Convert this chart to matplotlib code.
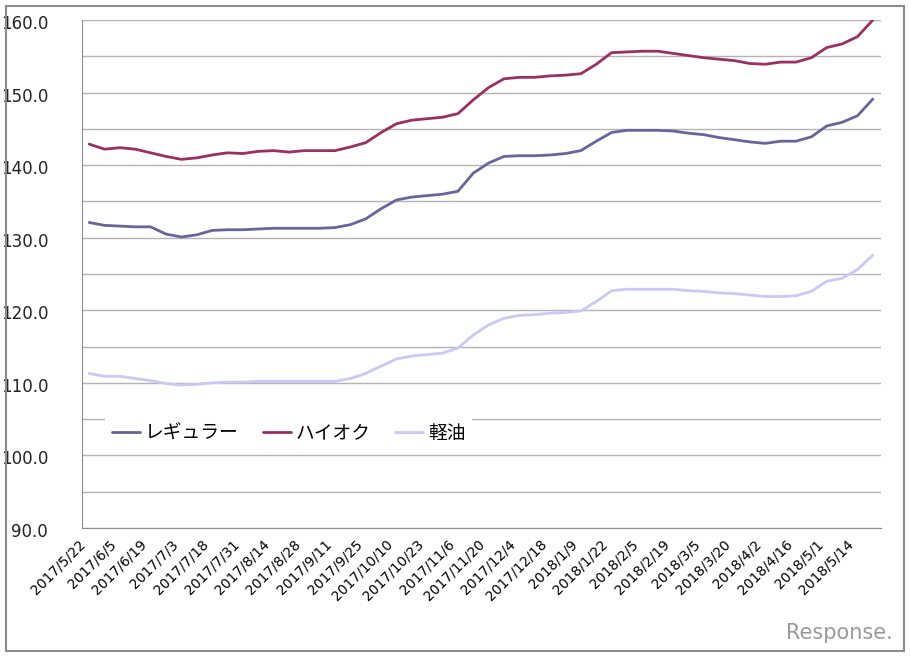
import matplotlib
matplotlib.use("Agg")
import matplotlib.pyplot as plt
from matplotlib.patches import Rectangle
from matplotlib.ticker import MultipleLocator, FormatStrFormatter
from matplotlib.transforms import ScaledTranslation

plt.rcParams['font.family'] = ['DejaVu Sans', 'Noto Sans CJK JP']

# survey dates (weekly, new year week skipped)
dates = ["2017/5/22", "2017/5/29", "2017/6/5", "2017/6/12", "2017/6/19", "2017/6/26",
         "2017/7/3", "2017/7/10", "2017/7/18", "2017/7/24", "2017/7/31", "2017/8/7",
         "2017/8/14", "2017/8/21", "2017/8/28", "2017/9/4", "2017/9/11", "2017/9/19",
         "2017/9/25", "2017/10/2", "2017/10/10", "2017/10/16", "2017/10/23", "2017/10/30",
         "2017/11/6", "2017/11/13", "2017/11/20", "2017/11/27", "2017/12/4", "2017/12/11",
         "2017/12/18", "2017/12/25", "2018/1/9", "2018/1/15", "2018/1/22", "2018/1/29",
         "2018/2/5", "2018/2/13", "2018/2/19", "2018/2/26", "2018/3/5", "2018/3/12",
         "2018/3/20", "2018/3/26", "2018/4/2", "2018/4/9", "2018/4/16", "2018/4/23",
         "2018/5/1", "2018/5/7", "2018/5/14", "2018/5/21"]

regular = [132.1, 131.7, 131.6, 131.5, 131.5, 130.5, 130.1, 130.4, 131.0, 131.1,
           131.1, 131.2, 131.3, 131.3, 131.3, 131.3, 131.4, 131.8, 132.6, 134.0,
           135.2, 135.6, 135.8, 136.0, 136.4, 138.9, 140.3, 141.2, 141.3, 141.3,
           141.4, 141.6, 142.0, 143.3, 144.5, 144.8, 144.8, 144.8, 144.7, 144.4,
           144.2, 143.8, 143.5, 143.2, 143.0, 143.3, 143.3, 143.9, 145.4, 145.9,
           146.8, 149.1]

haioku = [142.9, 142.2, 142.4, 142.2, 141.7, 141.2, 140.8, 141.0, 141.4, 141.7,
          141.6, 141.9, 142.0, 141.8, 142.0, 142.0, 142.0, 142.5, 143.1, 144.5,
          145.7, 146.2, 146.4, 146.6, 147.1, 149.0, 150.7, 151.9, 152.1, 152.1,
          152.3, 152.4, 152.6, 153.9, 155.5, 155.6, 155.7, 155.7, 155.4, 155.1,
          154.8, 154.6, 154.4, 154.0, 153.9, 154.2, 154.2, 154.8, 156.2, 156.7,
          157.7, 160.0]

diesel = [111.3, 110.9, 110.9, 110.6, 110.3, 109.9, 109.7, 109.8, 110.0, 110.1,
          110.1, 110.2, 110.2, 110.2, 110.2, 110.2, 110.2, 110.6, 111.3, 112.3,
          113.3, 113.7, 113.9, 114.1, 114.8, 116.6, 118.0, 118.9, 119.3, 119.4,
          119.6, 119.7, 119.9, 121.2, 122.7, 122.9, 122.9, 122.9, 122.9, 122.7,
          122.6, 122.4, 122.3, 122.1, 121.9, 121.9, 122.0, 122.6, 124.0, 124.4,
          125.6, 127.6]

names = ["レギュラー", "ハイオク", "軽油"]
colors = ["#65659c", "#9a2f62", "#c9c9f7"]

fig = plt.figure(figsize=(9.1, 6.56), dpi=100)
fig.patches.append(Rectangle((5.5 / 910, 5.5 / 656), 898 / 910, 645 / 656,
                             transform=fig.transFigure, fill=False,
                             edgecolor="#8c8c8c", linewidth=1.5))

ax = fig.add_axes([81.5 / 910, 1 - 528 / 656, 799 / 910, 508 / 656])

x = list(range(len(dates)))
for series, name, col in zip([regular, haioku, diesel], names, colors):
    ax.plot(x, series, color=col, linewidth=2.0, label=name,
            solid_joinstyle="round", solid_capstyle="round", zorder=3)

ax.set_xlim(-0.5, len(dates) - 0.5)
ax.set_ylim(90, 160)
ax.yaxis.set_major_locator(MultipleLocator(10))
ax.yaxis.set_minor_locator(MultipleLocator(5))
ax.yaxis.set_major_formatter(FormatStrFormatter("%.1f"))
ax.grid(axis="y", which="both", color="#b4b4b4", linewidth=1.0, zorder=1)
ax.set_axisbelow(True)

# every other week labelled
ax.set_xticks(x[::2])
ax.set_xticklabels(dates[::2], rotation=45, ha="right", va="center",
                   rotation_mode="anchor", fontsize=10)
ax.tick_params(axis="x", length=0, pad=10)
shift = ScaledTranslation(-6 / 100, 0, fig.dpi_scale_trans)
for lab in ax.get_xticklabels():
    lab.set_transform(lab.get_transform() + shift)

ax.tick_params(axis="y", which="both", length=0, pad=24, labelsize=12)
for lab in ax.get_yticklabels():
    lab.set_color("#222222")
    lab.set_transform(lab.get_transform() + ScaledTranslation(0, -2 / 100, fig.dpi_scale_trans))

for s in ["top", "right"]:
    ax.spines[s].set_visible(False)
ax.spines["left"].set_color("#8c8c8c")
ax.spines["bottom"].set_color("#8c8c8c")

leg = ax.legend(loc="center left", bbox_to_anchor=(0.018, 0.187), ncol=3,
                frameon=True, fancybox=False, edgecolor="none", facecolor="white",
                framealpha=1, handlelength=1.5, handletextpad=0.25,
                columnspacing=1.3, borderpad=0.35,
                prop={"family": ["Noto Sans CJK JP"], "size": 13.5})
leg.get_frame().set_linewidth(0)

fig.text(893 / 910, 1 - 633 / 656, "Response.", ha="right", va="center",
         fontsize=15, color="#9a9a9a")

fig.savefig("out.png", dpi=100)
